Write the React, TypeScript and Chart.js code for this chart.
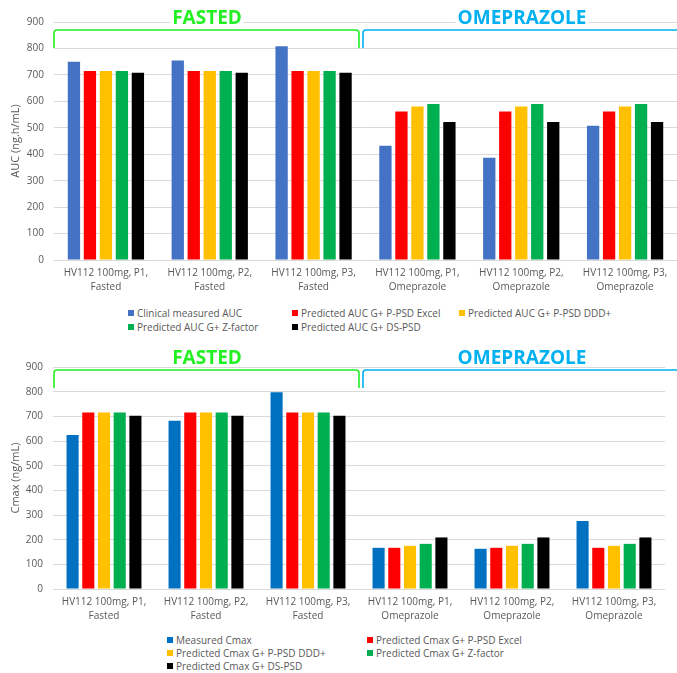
import React, { useEffect, useRef } from "react";
import { Chart, registerables } from "chart.js";

Chart.register(...registerables);

// ---- data ----
const categories: string[][] = [
  ["HV112 100mg, P1,", "Fasted"],
  ["HV112 100mg, P2,", "Fasted"],
  ["HV112 100mg, P3,", "Fasted"],
  ["HV112 100mg, P1,", "Omeprazole"],
  ["HV112 100mg, P2,", "Omeprazole"],
  ["HV112 100mg, P3,", "Omeprazole"],
];

const aucSeriesNames = [
  "Clinical measured AUC",
  "Predicted AUC G+ P-PSD Excel",
  "Predicted AUC G+ P-PSD DDD+",
  "Predicted AUC G+ Z-factor",
  "Predicted AUC G+ DS-PSD",
];
const clinicalAuc = [750, 754, 808, 432, 387, 508];
const aucPPsdExcel = [715, 715, 715, 562, 562, 562];
const aucPPsdDdd = [715, 715, 715, 580, 580, 580];
const aucZFactor = [715, 715, 715, 590, 590, 590];
const aucDsPsd = [708, 708, 708, 522, 522, 522];

const cmaxSeriesNames = [
  "Measured Cmax",
  "Predicted Cmax G+ P-PSD Excel",
  "Predicted Cmax G+ P-PSD DDD+",
  "Predicted Cmax G+ Z-factor",
  "Predicted Cmax G+ DS-PSD",
];
const measuredCmax = [624, 682, 798, 167, 163, 276];
const cmaxPPsdExcel = [716, 716, 716, 167, 167, 167];
const cmaxPPsdDdd = [716, 716, 716, 175, 175, 175];
const cmaxZFactor = [716, 716, 716, 183, 183, 183];
const cmaxDsPsd = [702, 702, 702, 209, 209, 209];

const yTicks = [0, 100, 200, 300, 400, 500, 600, 700, 800, 900];
const groupTitles = ["FASTED", "OMEPRAZOLE"];

// ---- styling ----
const FONT = "'Open Sans'";
const TEXT = "#595959";
const GRID = "#d9d9d9";
const aucColors = ["#4472C4", "#FF0000", "#FFC000", "#00B050", "#000000"];
const cmaxColors = ["#0070C0", "#FF0000", "#FFC000", "#00B050", "#000000"];
const FASTED_GREEN = "#22F022";
const OMEP_CYAN = "#00B0F0";

// Square bracket with a bold caption above each treatment group
const groupBracketPlugin = {
  id: "groupBrackets",
  afterDraw(chart: any, _args: any, opts: any) {
    const ctx = chart.ctx as CanvasRenderingContext2D;
    const r = 3;
    const { yTop, yBottom, captionY } = opts;
    (opts.groups as any[]).forEach((g) => {
      ctx.save();
      ctx.strokeStyle = g.color;
      ctx.lineWidth = 1.6;
      ctx.beginPath();
      ctx.moveTo(g.x0, yBottom);
      ctx.lineTo(g.x0, yTop + r);
      ctx.arcTo(g.x0, yTop, g.x0 + r, yTop, r);
      if (g.closed) {
        ctx.lineTo(g.x1 - r, yTop);
        ctx.arcTo(g.x1, yTop, g.x1, yTop + r, r);
        ctx.lineTo(g.x1, yBottom);
      } else {
        ctx.lineTo(g.x1, yTop);
      }
      ctx.stroke();

      ctx.font = `bold 19px ${FONT}`;
      ctx.textAlign = "center";
      ctx.textBaseline = "middle";
      const w = ctx.measureText(g.label).width;
      ctx.fillStyle = "#ffffff";
      ctx.fillRect(g.cx - w / 2 - 2, captionY - 7, w + 4, 14);
      ctx.fillStyle = g.color;
      ctx.fillText(g.label, g.cx, captionY + 1);
      ctx.restore();
    });
  },
};

type PanelProps = {
  height: number;
  plotLeft: number;
  plotTop: number;
  padRight: number;
  xAxisHeight: number;
  yTitle: string;
  names: string[];
  colors: string[];
  series: number[][];
};

function BarPanel(p: PanelProps) {
  const ref = useRef<HTMLCanvasElement | null>(null);
  useEffect(() => {
    if (!ref.current) return;
    const chart = new Chart(ref.current, {
      type: "bar",
      data: {
        labels: categories,
        datasets: p.series.map((values, i) => ({
          label: p.names[i],
          data: values,
          backgroundColor: p.colors[i],
          borderWidth: 0,
          categoryPercentage: 0.77,
          barPercentage: 0.77,
        })),
      },
      plugins: [groupBracketPlugin],
      options: {
        animation: false,
        responsive: false,
        devicePixelRatio: 1,
        layout: { padding: { top: p.plotTop, right: p.padRight, left: 0, bottom: 0 } },
        plugins: {
          legend: { display: false },
          tooltip: { enabled: false },
          groupBrackets: {
            yTop: 30,
            yBottom: 48,
            captionY: 18,
            groups: [
              { label: groupTitles[0], color: FASTED_GREEN, x0: 54, x1: 359, cx: 207, closed: true },
              { label: groupTitles[1], color: OMEP_CYAN, x0: 363, x1: 680, cx: 522, closed: false },
            ],
          },
        } as any,
        scales: {
          x: {
            grid: { display: false, drawTicks: false },
            border: { display: false },
            ticks: {
              color: TEXT,
              font: { family: FONT, size: 10, lineHeight: 1.4 },
              padding: 6,
              maxRotation: 0,
              autoSkip: false,
            },
            afterFit: (s: any) => {
              s.height = p.xAxisHeight;
            },
          },
          y: {
            min: yTicks[0],
            max: yTicks[yTicks.length - 1],
            afterBuildTicks: (s: any) => {
              s.ticks = yTicks.map((v) => ({ value: v }));
            },
            grid: { color: GRID, drawTicks: false, lineWidth: 1 },
            border: { display: false },
            ticks: {
              color: TEXT,
              font: { family: FONT, size: 10 },
              padding: 10,
            },
            title: {
              display: true,
              text: p.yTitle,
              color: TEXT,
              font: { family: FONT, size: 11 },
              padding: { top: 9, bottom: 0 },
            },
            afterFit: (s: any) => {
              s.width = p.plotLeft;
            },
          },
        },
      },
    });
    return () => chart.destroy();
  }, []);
  return <canvas ref={ref} width={677} height={p.height} style={{ display: "block" }} />;
}

type LegendProps = {
  top: number;
  columns: number[];
  rowGap: number;
  names: string[];
  colors: string[];
};

function GridLegend({ top, columns, rowGap, names, colors }: LegendProps) {
  return (
    <>
      {names.map((name, i) => {
        const col = i % columns.length;
        const row = Math.floor(i / columns.length);
        return (
          <div
            key={name}
            style={{
              position: "absolute",
              left: columns[col],
              top: top + row * rowGap - 8,
              height: 16,
              display: "flex",
              alignItems: "center",
              whiteSpace: "nowrap",
              font: `10px ${FONT}`,
              color: TEXT,
            }}
          >
            <span
              style={{
                display: "inline-block",
                width: 6,
                height: 6,
                background: colors[i],
                marginRight: 3,
              }}
            />
            {name}
          </div>
        );
      })}
    </>
  );
}

export default function App() {
  return (
    <div
      style={{
        position: "absolute",
        left: 0,
        top: 0,
        width: 677,
        height: 673,
        background: "#ffffff",
        overflow: "hidden",
      }}
    >
      <div style={{ position: "absolute", left: 0, top: 0 }}>
        <BarPanel
          height={300}
          plotLeft={54}
          plotTop={22}
          padRight={0}
          xAxisHeight={40}
          yTitle="AUC (ng.h/mL)"
          names={aucSeriesNames}
          colors={aucColors}
          series={[clinicalAuc, aucPPsdExcel, aucPPsdDdd, aucZFactor, aucDsPsd]}
        />
      </div>
      <GridLegend top={313} columns={[128, 292, 459]} rowGap={13.5} names={aucSeriesNames} colors={aucColors} />
      <div style={{ position: "absolute", left: 0, top: 340 }}>
        <BarPanel
          height={290}
          plotLeft={53}
          plotTop={27}
          padRight={12}
          xAxisHeight={41}
          yTitle="Cmax (ng/mL)"
          names={cmaxSeriesNames}
          colors={cmaxColors}
          series={[measuredCmax, cmaxPPsdExcel, cmaxPPsdDdd, cmaxZFactor, cmaxDsPsd]}
        />
      </div>
      <GridLegend top={639.5} columns={[167, 367]} rowGap={13.4} names={cmaxSeriesNames} colors={cmaxColors} />
    </div>
  );
}
